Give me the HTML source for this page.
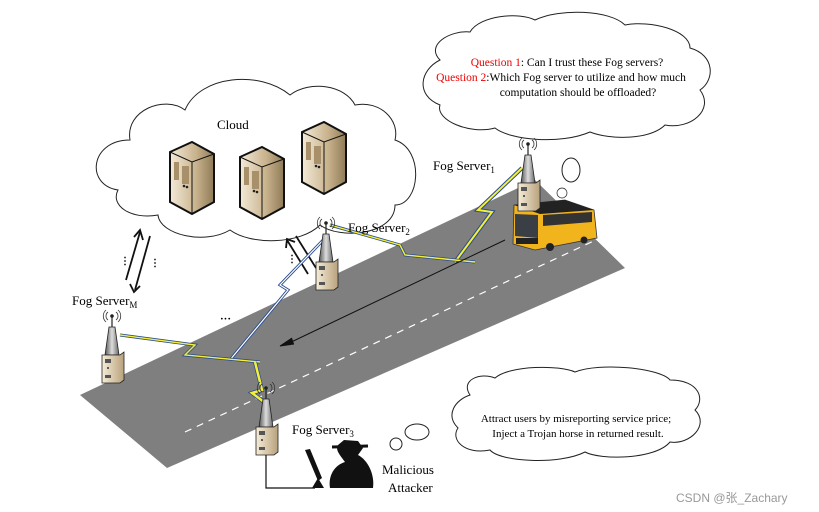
<!DOCTYPE html>
<html><head><meta charset="utf-8"><style>
html,body{margin:0;padding:0;background:#fff;}
svg{display:block;font-family:"Liberation Serif",serif;}
</style></head><body>
<svg width="819" height="512" viewBox="0 0 819 512" xmlns="http://www.w3.org/2000/svg">
<defs>
<linearGradient id="srv" x1="0" x2="1"><stop offset="0" stop-color="#f3ead8"/><stop offset="0.6" stop-color="#c8b28c"/><stop offset="1" stop-color="#8f7a58"/></linearGradient>
<linearGradient id="bx" x1="0" x2="1"><stop offset="0" stop-color="#f5ecd9"/><stop offset="1" stop-color="#b9a27c"/></linearGradient>
<linearGradient id="tw" x1="0" x2="1"><stop offset="0" stop-color="#555"/><stop offset="0.5" stop-color="#ddd"/><stop offset="1" stop-color="#666"/></linearGradient>
<g id="fog">
<path d="M-3,-28 L3,-28 L7,0 L-7,0 Z" fill="url(#tw)" stroke="#222" stroke-width="0.8"/>
<line x1="0" y1="-28" x2="0" y2="-38" stroke="#222" stroke-width="1.2"/>
<circle cx="0" cy="-39" r="1.8" fill="#222"/>
<path d="M-4,-43 a5,5 0 0,0 0,8 M4,-43 a5,5 0 0,1 0,8 M-6,-45 a8,8 0 0,0 0,12 M6,-45 a8,8 0 0,1 0,12" fill="none" stroke="#333" stroke-width="0.8"/>
<path d="M-10,0 L8,0 L12,-3 L12,25 L8,28 L-10,28 Z" fill="url(#bx)" stroke="#222" stroke-width="0.8"/>
<rect x="-7" y="4" width="6" height="4" fill="#555"/><rect x="-7" y="20" width="6" height="3" fill="#555"/><circle cx="-4" cy="13" r="1" fill="#333"/>
</g>
<g id="server">
<path d="M0,10 L22,0 L44,12 L44,60 L22,72 L0,60 Z" fill="url(#srv)" stroke="#111" stroke-width="2"/>
<path d="M0,10 L22,20 L44,12" fill="none" stroke="#111" stroke-width="1"/>
<line x1="22" y1="20" x2="22" y2="72" stroke="#111" stroke-width="1"/>
<rect x="4" y="20" width="5" height="18" fill="#a8916a"/><rect x="12" y="24" width="7" height="18" fill="#a8916a"/>
<circle cx="14" cy="44" r="1.3" fill="#222"/><circle cx="17" cy="45" r="1.3" fill="#222"/>
</g>
</defs>
<!-- road -->
<polygon points="80,395 535,180 625,268 167,468" fill="#7f7f7f"/>
<line x1="185" y1="432" x2="600" y2="238" stroke="#fff" stroke-width="1.2" stroke-dasharray="7,6"/>
<!-- big cloud -->
<path d="M118,190 C85,185 90,140 130,140 C125,110 165,95 185,110 C200,75 260,70 290,95 C310,80 345,85 355,105 C380,100 400,120 395,140 C425,150 420,205 395,205 C395,235 340,240 320,225 C300,245 250,245 230,230 C205,245 160,235 158,215 C130,220 110,205 118,190 Z" fill="#fff" stroke="#222" stroke-width="1"/>
<text x="217" y="129" font-size="13">Cloud</text>
<use href="#server" x="170" y="142"/>
<use href="#server" x="240" y="147"/>
<use href="#server" x="302" y="122"/>
<!-- arrows cloud-fogM -->
<line x1="126" y1="280" x2="140" y2="232" stroke="#111" stroke-width="1.8"/>
<path d="M134,237 L140,230 L143,240" fill="none" stroke="#111" stroke-width="1.8"/>
<line x1="150" y1="236" x2="135" y2="290" stroke="#111" stroke-width="1.8"/>
<path d="M130,284 L134,292 L140,286" fill="none" stroke="#111" stroke-width="1.8"/>
<text x="120" y="264" font-size="10" font-weight="bold">⋮</text><text x="150" y="266" font-size="10" font-weight="bold">⋮</text>
<!-- arrows cloud-fog2 -->
<line x1="287" y1="240" x2="308" y2="274" stroke="#111" stroke-width="1.8"/>
<path d="M286,248 L287,239 L295,242" fill="none" stroke="#111" stroke-width="1.8"/>
<line x1="296" y1="236" x2="316" y2="268" stroke="#111" stroke-width="1.8"/>
<text x="287" y="262" font-size="10" font-weight="bold">⋮</text>
<!-- bus thought bubble -->
<path d="M440,60 C425,45 450,30 470,32 C480,15 520,12 535,20 C560,8 610,10 625,25 C650,20 690,30 690,48 C715,55 715,80 700,90 C715,110 690,130 665,125 C650,140 610,140 590,132 C560,145 510,140 495,128 C470,135 435,120 440,105 C415,95 420,70 440,60 Z" fill="#fff" stroke="#222" stroke-width="1"/>
<text x="567" y="66" font-size="11.5" text-anchor="middle"><tspan fill="#e00">Question 1</tspan>: Can I trust these Fog servers?</text>
<text x="561" y="81" font-size="11.5" text-anchor="middle"><tspan fill="#e00">Question 2</tspan>:Which Fog server to utilize and how much</text>
<text x="578" y="96" font-size="11.5" text-anchor="middle">computation should be offloaded?</text>
<ellipse cx="571" cy="170" rx="9" ry="12" fill="#fff" stroke="#222"/>
<circle cx="562" cy="193" r="5" fill="#fff" stroke="#222" stroke-width="0.7"/>
<!-- attacker bubble -->
<path d="M470,395 C460,380 480,372 495,378 C510,365 560,365 575,372 C600,362 660,368 670,380 C700,380 705,400 695,410 C710,425 690,445 670,442 C655,460 600,460 585,452 C560,465 500,462 490,450 C465,455 450,440 458,428 C445,415 455,400 470,395 Z" fill="#fff" stroke="#222" stroke-width="1"/>
<text x="576" y="422" font-size="11" text-anchor="middle">Attract users by misreporting service price;</text>
<text x="578" y="437" font-size="11" text-anchor="middle">Inject a Trojan horse in returned result.</text>
<ellipse cx="417" cy="432" rx="12" ry="8" fill="#fff" stroke="#222"/>
<circle cx="396" cy="444" r="6" fill="#fff" stroke="#222"/>
<!-- wireless links -->
<g fill="none" stroke-linejoin="miter">
<path d="M522,168 L478,210 L492,212 L455,262" stroke="#2a4d8f" stroke-width="4"/>
<path d="M522,168 L478,210 L492,212 L455,262" stroke="#f5ef3a" stroke-width="2"/>
<path d="M330,225 L400,245 L405,255 L475,262" stroke="#2a4d8f" stroke-width="3"/>
<path d="M330,225 L400,245 L405,255 L475,262" stroke="#f5ef3a" stroke-width="1.4"/>
<path d="M328,235 L280,285 L288,290 L230,360" stroke="#2a4d8f" stroke-width="3"/>
<path d="M328,235 L280,285 L288,290 L230,360" stroke="#fff" stroke-width="1.2"/>
<path d="M120,335 L195,345 L185,355 L260,362" stroke="#2a4d8f" stroke-width="3"/>
<path d="M120,335 L195,345 L185,355 L260,362" stroke="#f5ef3a" stroke-width="1.4"/>
<path d="M255,362 L262,390 L252,393 L268,405" stroke="#2a4d8f" stroke-width="4"/>
<path d="M255,362 L262,390 L252,393 L268,405" stroke="#f5ef3a" stroke-width="2.5"/>
</g>
<line x1="505" y1="240" x2="285" y2="345" stroke="#111" stroke-width="1"/>
<path d="M292,338 L280,346 L294,344" fill="#111" stroke="#111"/>
<text x="220" y="322" font-size="11" font-weight="bold">···</text>
<!-- bus -->
<g>
<path d="M514,205 L565,200 L594,210 L597,238 L535,250 L513,244 Z" fill="#f2b41c" stroke="#333" stroke-width="0.8"/>
<path d="M514,205 L565,200 L594,210 L540,214 Z" fill="#222"/>
<path d="M515,214 L538,215 L538,238 L515,236 Z" fill="#3a3f45"/>
<path d="M543,215 L592,212 L592,222 L543,226 Z" fill="#333"/>
<rect x="516" y="238" width="22" height="6" fill="#222"/>
<circle cx="550" cy="247" r="4" fill="#222"/><circle cx="584" cy="240" r="3.5" fill="#222"/>
</g>
<!-- fog servers -->
<use href="#fog" x="528" y="183"/>
<use href="#fog" x="326" y="262"/>
<use href="#fog" x="112" y="355"/>
<use href="#fog" x="266" y="427"/>
<text x="433" y="170" font-size="13">Fog Server<tspan font-size="9" dy="3">1</tspan></text>
<text x="348" y="232" font-size="13">Fog Server<tspan font-size="9" dy="3">2</tspan></text>
<text x="72" y="305" font-size="13">Fog Server<tspan font-size="9" dy="3">M</tspan></text>
<text x="292" y="434" font-size="13">Fog Server<tspan font-size="9" dy="3">3</tspan></text>
<!-- attacker -->
<polyline points="266,455 266,488 315,488" fill="none" stroke="#111" stroke-width="1.2"/>
<path d="M305,450 L310,449 L322,478 L318,481 Z" fill="#111"/>
<path d="M312,488 L318,478 L324,488 Z" fill="#111"/>
<path d="M330,488 C328,475 335,465 345,462 C340,455 335,450 338,445 L344,440 L358,441 L363,448 L358,455 C368,460 375,475 373,488 Z" fill="#111"/>
<path d="M332,447 L368,446" stroke="#111" stroke-width="3"/>
<text x="382" y="474" font-size="13">Malicious</text>
<text x="388" y="492" font-size="13">Attacker</text>
<text x="676" y="502" font-size="12" fill="#999" font-family="Liberation Sans,Noto Sans CJK SC,sans-serif">CSDN @张_Zachary</text>
</svg>
</body></html>
